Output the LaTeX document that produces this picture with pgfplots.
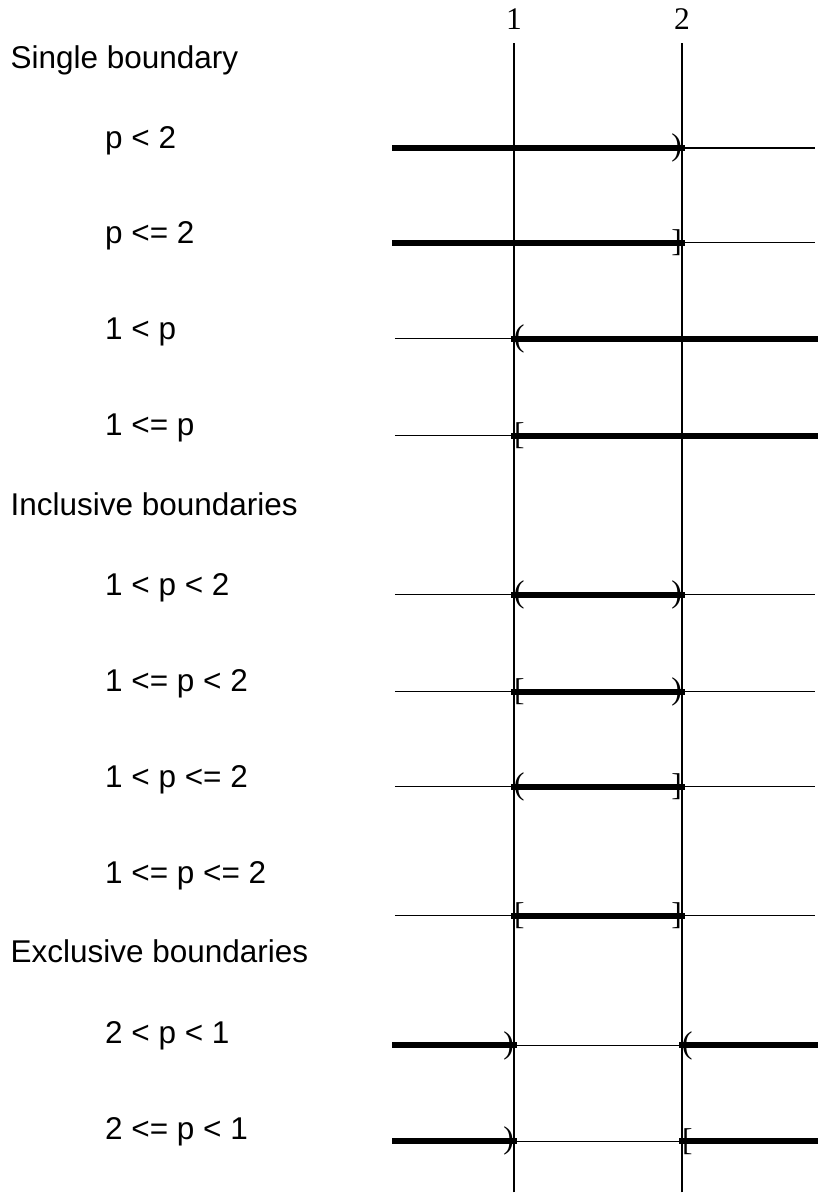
\documentclass[border=0pt]{standalone}
\usepackage{fontspec}
\setmainfont{Liberation Sans}
\newfontfamily\timesf{Liberation Serif}
\usepackage{pgfplots}
\pgfplotsset{compat=1.18}
\newcommand\bigf{\fontsize{31.5}{36}\selectfont}
\pgfplotsset{
  rowline/.style={black, line width=1.2pt, no markers},
  seg/.style={black, line width=6pt, line cap=rect, no markers},
  brk/.style 2 args={only marks, mark=text, text mark={#1}, text mark as node=true,
     text mark style={font=\timesf\bigf, inner sep=0pt, anchor=#2}},
}
\begin{document}
\begin{tikzpicture}
\begin{axis}[
  scale only axis, width=818pt, height=1150pt,
  xmin=-2.06119, xmax=2.80786, ymin=-1193, ymax=-43,
  clip=false,
  axis line style={draw=none}, tick style={draw=none},
  xtick={1,2}, xticklabels={1,2}, xticklabel pos=upper,
  xticklabel style={font=\timesf\bigf, inner sep=0pt},
  xticklabel shift=13pt,
  ytick=\empty,
  xmajorgrids, major grid style={black, line width=1.2pt},
]
% bounding box to the top-left of the page
\path (axis cs:-2.06119,0) -- (axis cs:2.80786,0);

% ---- labels
\node[anchor=base west, inner sep=0pt, font=\bigf] at (axis cs:-1.99869,-69) {Single boundary};
\node[anchor=base west, inner sep=0pt, font=\bigf] at (axis cs:-1.99869,-516) {Inclusive boundaries};
\node[anchor=base west, inner sep=0pt, font=\bigf] at (axis cs:-1.99869,-963) {Exclusive boundaries};
\node[anchor=base west, inner sep=0pt, font=\bigf] at (axis cs:-1.43619,-149) {p < 2};
\node[anchor=base west, inner sep=0pt, font=\bigf] at (axis cs:-1.43619,-244) {p <= 2};
\node[anchor=base west, inner sep=0pt, font=\bigf] at (axis cs:-1.43619,-340) {1 < p};
\node[anchor=base west, inner sep=0pt, font=\bigf] at (axis cs:-1.43619,-436) {1 <= p};
\node[anchor=base west, inner sep=0pt, font=\bigf] at (axis cs:-1.43619,-596) {1 < p < 2};
\node[anchor=base west, inner sep=0pt, font=\bigf] at (axis cs:-1.43619,-692) {1 <= p < 2};
\node[anchor=base west, inner sep=0pt, font=\bigf] at (axis cs:-1.43619,-788) {1 < p <= 2};
\node[anchor=base west, inner sep=0pt, font=\bigf] at (axis cs:-1.43619,-884) {1 <= p <= 2};
\node[anchor=base west, inner sep=0pt, font=\bigf] at (axis cs:-1.43619,-1044) {2 < p < 1};
\node[anchor=base west, inner sep=0pt, font=\bigf] at (axis cs:-1.43619,-1140) {2 <= p < 1};

% ---- row 1: p < 2
\addplot[rowline] coordinates {(0.29,-148) (2.79,-148)};
\addplot[seg] coordinates {(0.29,-148) (2,-148)};
\addplot[brk={)}{east}] coordinates {(2,-148)};
% ---- row 2: p <= 2
\addplot[rowline] coordinates {(0.29,-243) (2.79,-243)};
\addplot[seg] coordinates {(0.29,-243) (2,-243)};
\addplot[brk={]}{east}] coordinates {(2,-243)};
% ---- row 3: 1 < p
\addplot[rowline] coordinates {(0.29,-339) (2.79,-339)};
\addplot[seg] coordinates {(1,-339) (2.79,-339)};
\addplot[brk={(}{west}] coordinates {(1,-339)};
% ---- row 4: 1 <= p
\addplot[rowline] coordinates {(0.29,-436) (2.79,-436)};
\addplot[seg] coordinates {(1,-436) (2.79,-436)};
\addplot[brk={[}{west}] coordinates {(1,-436)};
% ---- row 5: 1 < p < 2
\addplot[rowline] coordinates {(0.29,-595) (2.79,-595)};
\addplot[seg] coordinates {(1,-595) (2,-595)};
\addplot[brk={(}{west}] coordinates {(1,-595)};
\addplot[brk={)}{east}] coordinates {(2,-595)};
% ---- row 6: 1 <= p < 2
\addplot[rowline] coordinates {(0.29,-692) (2.79,-692)};
\addplot[seg] coordinates {(1,-692) (2,-692)};
\addplot[brk={[}{west}] coordinates {(1,-692)};
\addplot[brk={)}{east}] coordinates {(2,-692)};
% ---- row 7: 1 < p <= 2
\addplot[rowline] coordinates {(0.29,-787) (2.79,-787)};
\addplot[seg] coordinates {(1,-787) (2,-787)};
\addplot[brk={(}{west}] coordinates {(1,-787)};
\addplot[brk={]}{east}] coordinates {(2,-787)};
% ---- row 8: 1 <= p <= 2
\addplot[rowline] coordinates {(0.29,-916) (2.79,-916)};
\addplot[seg] coordinates {(1,-916) (2,-916)};
\addplot[brk={[}{west}] coordinates {(1,-916)};
\addplot[brk={]}{east}] coordinates {(2,-916)};
% ---- row 9: 2 < p < 1
\addplot[rowline] coordinates {(0.29,-1046) (2.79,-1046)};
\addplot[seg] coordinates {(0.29,-1046) (1,-1046)};
\addplot[seg] coordinates {(2,-1046) (2.79,-1046)};
\addplot[brk={)}{east}] coordinates {(1,-1046)};
\addplot[brk={(}{west}] coordinates {(2,-1046)};
% ---- row 10: 2 <= p < 1
\addplot[rowline] coordinates {(0.29,-1142) (2.79,-1142)};
\addplot[seg] coordinates {(0.29,-1142) (1,-1142)};
\addplot[seg] coordinates {(2,-1142) (2.79,-1142)};
\addplot[brk={)}{east}] coordinates {(1,-1142)};
\addplot[brk={[}{west}] coordinates {(2,-1142)};
\end{axis}
\end{tikzpicture}
\end{document}
